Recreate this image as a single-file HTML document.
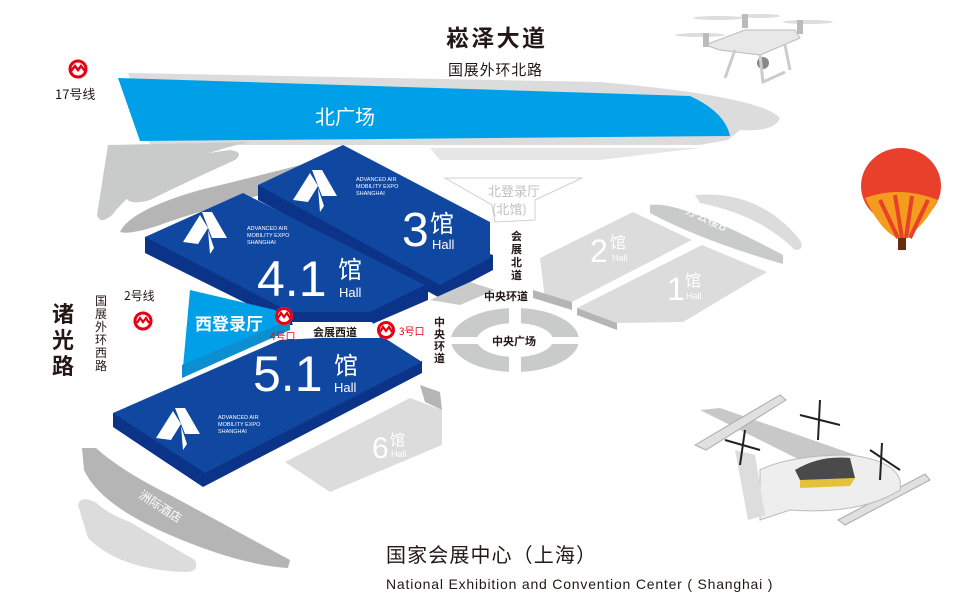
<!DOCTYPE html>
<html><head><meta charset="utf-8"><style>
html,body{margin:0;padding:0;background:#fff}
svg{display:block}
text{font-family:"Liberation Sans","Noto Sans CJK SC",sans-serif}
.cj{font-family:"Noto Sans CJK SC","WenQuanYi Zen Hei",sans-serif}
</style></head><body>
<svg width="960" height="611" viewBox="0 0 960 611" xmlns="http://www.w3.org/2000/svg">
<text class="cj" x="446" y="46" font-size="23" font-weight="bold" fill="#231815" textLength="99">崧泽大道</text>
<text class="cj" x="448" y="75" font-size="15" fill="#231815" textLength="94">国展外环北路</text>
<g transform="translate(78,69)"><circle r="8" fill="none" stroke="#e60012" stroke-width="3"/><path d="M-7,2 L-3,-3 L0,1 L3,-3 L7,2" fill="none" stroke="#e60012" stroke-width="2.5"/></g>
<text class="cj" x="55" y="99" font-size="13" fill="#231815">17号线</text>

<path d="M128,73 L600,82 Q760,96 780,118 Q775,132 740,130 L728,140 L700,145 L150,145 Z" fill="#dcdcdd"/>
<path d="M118,78 L690,96 Q725,112 730,136 L140,141 Z" fill="#00a0e9"/>
<text class="cj" x="315" y="124" font-size="20" fill="#fff">北广场</text>
<path d="M108,145 L250,142 Q200,152 150,180 Q125,198 112,215 Q100,225 97,215 Z" fill="#c9caca"/>
<path d="M125,193 Q150,160 230,150 Q245,152 235,160 Q180,185 150,200 Q125,207 125,193 Z" fill="#c9caca"/>
<path d="M120,232 Q130,210 200,190 Q250,178 300,165 L300,185 Q200,210 160,225 Q130,235 120,232 Z" fill="#b5b5b6"/>
<path d="M430,148 L700,148 L600,160 L440,160 Z" fill="#e6e6e6"/>
<path d="M445,178 L582,178 L535,200 L535,220 L495,222 L492,205 Z" fill="#fff" stroke="#d0d0d0" stroke-width="1"/>
<text class="cj" x="488" y="196" font-size="13" fill="#c0c0c0">北登录厅</text>
<text class="cj" x="492" y="214" font-size="13" fill="#c0c0c0">(北馆)</text>

<path d="M258,185 L258,200 L440,298 L493,270 L493,255 Z" fill="#0b3488"/>
<path d="M258,185 L343,145 L490,222 L490,258 L440,285 Z" fill="#0f47a1"/>
<path d="M145,237 L145,253 L290,325 L370,325 L428,300 L428,287 Z" fill="#0b3488"/>
<path d="M145,237 L243,193 L425,285 L370,312 L290,312 Z" fill="#0f47a1"/>
<path d="M190,290 L275,310 L290,325 L182,378 Z" fill="#00a0e9"/>
<path d="M182,365 L290,320 L290,330 L182,378 Z" fill="#0d8ed1"/>
<text class="cj" x="195" y="330" font-size="17" font-weight="bold" fill="#fff">西登录厅</text>
<path d="M113,413 L113,427 L203,487 L422,373 L422,361 Z" fill="#0b3488"/>
<path d="M113,413 L280,340 L380,335 L422,362 L205,473 Z" fill="#0f47a1"/>
<path d="M292,322 L372,322 L380,338 L296,338 Z" fill="#fff"/>
<text class="cj" x="313" y="336" font-size="11" font-weight="bold" fill="#231815">会展西道</text>

<path d="M430,300 L470,282 L495,290 L460,305 Z" fill="#c9caca"/>
<path d="M540,258 L633,212 L692,240 L572,302 L545,300 Z" fill="#dcdcdd"/>
<path d="M533,290 L572,302 L572,310 L533,298 Z" fill="#b5b5b6"/>
<path d="M577,308 L702,245 L767,272 L683,322 L617,323 Z" fill="#dcdcdd"/>
<path d="M577,308 L617,323 L617,330 L577,315 Z" fill="#b5b5b6"/>
<path d="M650,205 Q680,200 783,255 L783,264 Q700,240 650,213 Z" fill="#c9caca"/>
<path d="M695,195 Q760,190 800,240 Q805,250 795,250 Q760,215 700,203 Z" fill="#dcdcdd"/>
<text class="cj" transform="translate(685,213) rotate(25)" font-size="12" fill="#fff">办公楼B</text>
<text x="590" y="262" font-size="32" fill="#fff">2</text><text class="cj" x="610" y="248" font-size="16" fill="#fff">馆</text><text x="612" y="261" font-size="9" fill="#fff">Hall</text>
<text x="667" y="300" font-size="32" fill="#fff">1</text><text class="cj" x="685" y="286" font-size="16" fill="#fff">馆</text><text x="686" y="299" font-size="9" fill="#fff">Hall</text>
<path d="M285,462 L410,398 L442,410 L442,445 L330,492 Z" fill="#dcdcdd"/>
<path d="M420,385 L440,392 L442,410 L425,402 Z" fill="#b5b5b6"/>
<text x="372" y="458" font-size="30" fill="#fff">6</text><text class="cj" x="390" y="445" font-size="15" fill="#fff">馆</text><text x="391" y="457" font-size="9" fill="#fff">Hall</text>

<ellipse cx="515" cy="340" rx="64" ry="32" fill="#c9caca"/>
<ellipse cx="515" cy="340" rx="38" ry="17" fill="#fff"/>
<rect x="509" y="300" width="12" height="80" fill="#fff"/>
<rect x="440" y="337" width="150" height="7" fill="#fff"/>
<text class="cj" x="492" y="345" font-size="11" font-weight="bold" fill="#231815">中央广场</text>
<text class="cj" x="484" y="300" font-size="11" font-weight="bold" fill="#231815">中央环道</text>
<text class="cj" font-size="11" font-weight="bold" fill="#231815"><tspan x="511" y="240">会</tspan><tspan x="511" y="253">展</tspan><tspan x="511" y="266">北</tspan><tspan x="511" y="279">道</tspan></text>
<text class="cj" font-size="11" font-weight="bold" fill="#231815"><tspan x="434" y="326">中</tspan><tspan x="434" y="338">央</tspan><tspan x="434" y="350">环</tspan><tspan x="434" y="362">道</tspan></text>

<text x="402" y="246" font-size="48" fill="#fff">3</text><text class="cj" x="430" y="232" font-size="24" fill="#fff">馆</text><text x="432" y="249" font-size="13" fill="#fff">Hall</text>
<text x="257" y="296" font-size="50" fill="#fff">4.1</text><text class="cj" x="338" y="278" font-size="24" fill="#fff">馆</text><text x="339" y="297" font-size="13" fill="#fff">Hall</text>
<text x="253" y="391" font-size="50" fill="#fff">5.1</text><text class="cj" x="334" y="374" font-size="24" fill="#fff">馆</text><text x="334" y="392" font-size="13" fill="#fff">Hall</text>
<g fill="#fff">
<path d="M183,242 L200,215 L208,228 L198,244 Z M202,212 L212,212 L227,238 L212,238 Z M208,230 L214,248 L210,254 Z"/>
<path d="M293,200 L310,173 L318,186 L308,202 Z M312,170 L322,170 L337,196 L322,196 Z M318,188 L324,206 L320,212 Z"/>
<path d="M156,438 L173,411 L181,424 L171,440 Z M175,408 L185,408 L200,434 L185,434 Z M181,426 L187,444 L183,450 Z"/>
</g>
<g font-size="5.5" fill="#fff">
<text x="247" y="230">ADVANCED AIR</text><text x="247" y="237">MOBILITY EXPO</text><text x="247" y="244">SHANGHAI</text>
<text x="356" y="181">ADVANCED AIR</text><text x="356" y="188">MOBILITY EXPO</text><text x="356" y="195">SHANGHAI</text>
<text x="218" y="419">ADVANCED AIR</text><text x="218" y="426">MOBILITY EXPO</text><text x="218" y="433">SHANGHAI</text>
</g>
<g transform="translate(284,316)"><circle r="9" fill="#fff"/><circle r="7.5" fill="none" stroke="#e60012" stroke-width="3"/><path d="M-6,2 L-3,-3 L0,1 L3,-3 L6,2" fill="none" stroke="#e60012" stroke-width="2.2"/></g>
<text class="cj" x="270" y="340" font-size="10" fill="#e60012">4号口</text>
<g transform="translate(386,330)"><circle r="9" fill="#fff"/><circle r="7.5" fill="none" stroke="#e60012" stroke-width="3"/><path d="M-6,2 L-3,-3 L0,1 L3,-3 L6,2" fill="none" stroke="#e60012" stroke-width="2.2"/></g>
<text class="cj" x="399" y="335" font-size="10" fill="#e60012">3号口</text>
<g transform="translate(143,321)"><circle r="8" fill="none" stroke="#e60012" stroke-width="3"/><path d="M-6,2 L-3,-3 L0,1 L3,-3 L6,2" fill="none" stroke="#e60012" stroke-width="2.2"/></g>
<text class="cj" x="124" y="300" font-size="12" fill="#231815">2号线</text>
<text class="cj" font-size="22" font-weight="bold" fill="#231815"><tspan x="52" y="322">诸</tspan><tspan x="52" y="348">光</tspan><tspan x="52" y="374">路</tspan></text>
<text class="cj" font-size="12" fill="#231815"><tspan x="95" y="305">国</tspan><tspan x="95" y="318">展</tspan><tspan x="95" y="331">外</tspan><tspan x="95" y="344">环</tspan><tspan x="95" y="357">西</tspan><tspan x="95" y="370">路</tspan></text>
<path d="M82,448 L96,448 Q120,470 170,495 L290,560 L288,568 Q240,565 170,535 Q100,505 84,470 Z" fill="#b5b5b6"/>
<path d="M78,505 Q80,495 95,502 Q110,515 130,522 Q160,540 195,560 Q200,572 185,572 Q120,570 88,538 Z" fill="#dcdcdd"/>
<text class="cj" transform="translate(138,497) rotate(33)" font-size="12" fill="#fff">洲际酒店</text>

<text class="cj" x="386" y="562" font-size="20" fill="#231815" textLength="210">国家会展中心（上海）</text>
<text x="386" y="589" font-size="14" fill="#231815" textLength="387" letter-spacing="0.6">National Exhibition and Convention Center ( Shanghai )</text>

<g>
<ellipse cx="718" cy="18" rx="25" ry="2" fill="#ddd"/><ellipse cx="760" cy="16" rx="20" ry="2" fill="#ddd"/><ellipse cx="808" cy="22" rx="25" ry="2" fill="#ddd"/><ellipse cx="700" cy="35" rx="25" ry="2" fill="#ddd"/>
<path d="M705,45 L745,30 L795,30 L800,38 L760,55 L720,50 Z" fill="#e8e8e8" stroke="#bbb"/>
<rect x="742" y="14" width="6" height="14" fill="#bbb"/><rect x="797" y="20" width="6" height="14" fill="#bbb"/><rect x="703" y="33" width="6" height="14" fill="#bbb"/>
<circle cx="763" cy="63" r="6" fill="#888"/>
<path d="M735,50 L725,78 M760,55 L763,82 L785,72 M785,45 L790,70" stroke="#ccc" stroke-width="3" fill="none"/>
</g>
<g>
<ellipse cx="901" cy="186" rx="40" ry="38" fill="#e8402a"/>
<path d="M865,198 Q880,230 897,238 L906,238 Q925,225 938,200 Q900,185 865,198 Z" fill="#f39c1d"/>
<path d="M880,200 L898,238 M895,195 L902,238 M912,196 L906,238 M928,200 L910,238" stroke="#e8402a" stroke-width="4"/>
<rect x="898" y="238" width="8" height="12" fill="#6a2a10"/>
</g>
<g>
<path d="M700,410 L720,408 L870,460 L870,478 L820,470 Z" fill="#c8c8c8"/>
<path d="M695,445 L780,395 L786,400 L706,450 Z" fill="#e0e0e0" stroke="#aaa"/>
<path d="M838,520 L925,474 L930,480 L845,525 Z" fill="#e0e0e0" stroke="#aaa"/>
<path d="M760,470 Q790,455 850,455 Q905,462 900,490 Q860,515 790,510 L760,520 Z" fill="#eee" stroke="#bbb"/>
<path d="M795,470 Q820,455 850,458 L855,478 Q820,480 800,480 Z" fill="#4a4a4a"/>
<path d="M800,480 L855,478 L850,486 L800,488 Z" fill="#e3c13b"/>
<path d="M735,450 L755,455 L765,515 L748,520 Z" fill="#ddd"/>
<path d="M800,415 L840,425 M820,400 L818,440 M870,450 L900,470 M882,443 L880,480 M725,440 L760,450 M745,430 L740,465" stroke="#222" stroke-width="2"/>
</g>
</svg>
</body></html>
